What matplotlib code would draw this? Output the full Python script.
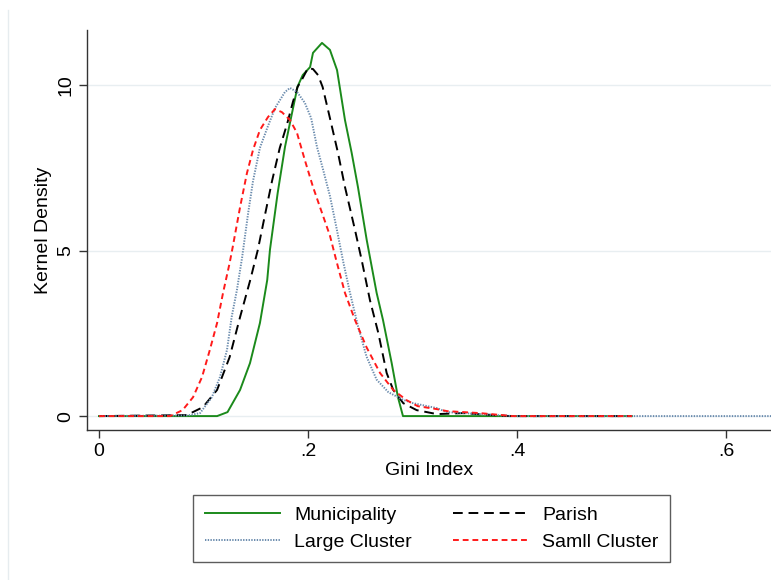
import matplotlib
matplotlib.use("Agg")
import matplotlib.pyplot as plt
from matplotlib.lines import Line2D

plt.rcParams['font.family'] = ['Liberation Sans', 'DejaVu Sans']

# Kernel density estimates of the Gini index by aggregation level
muni_x = [0.0, 0.113, 0.123, 0.135, 0.1445, 0.154, 0.161, 0.1636, 0.171, 0.178,
          0.1847, 0.190, 0.195, 0.202, 0.2048, 0.2134, 0.221, 0.2278, 0.2354,
          0.2418, 0.2478, 0.2562, 0.2657, 0.2718, 0.2801, 0.2861, 0.2909, 0.51]
muni_y = [0.0, 0.0, 0.12, 0.79, 1.60, 2.81, 4.11, 5.02, 6.74, 8.13,
          9.15, 9.95, 10.30, 10.54, 10.97, 11.27, 11.06, 10.45, 8.94,
          7.95, 6.92, 5.32, 3.72, 2.90, 1.60, 0.57, 0.0, 0.0]

parish_x = [0.0, 0.084, 0.0995, 0.113, 0.125, 0.135, 0.1445, 0.152, 0.159, 0.1656,
            0.173, 0.180, 0.1856, 0.190, 0.194, 0.200, 0.2048, 0.2096, 0.214,
            0.221, 0.2287, 0.2354, 0.245, 0.2514, 0.2593, 0.2673, 0.2753, 0.2816,
            0.2912, 0.304, 0.3234, 0.348, 0.393, 0.51]
parish_y = [0.0, 0.03, 0.27, 0.79, 1.78, 2.99, 4.08, 5.02, 6.10, 7.10,
            8.10, 8.82, 9.49, 9.94, 10.15, 10.51, 10.48, 10.30, 9.94,
            9.00, 7.95, 6.92, 5.62, 4.71, 3.50, 2.51, 1.30, 0.79,
            0.39, 0.18, 0.06, 0.09, 0.0, 0.0]

large_x = [0.0, 0.085, 0.0967, 0.108, 0.1158, 0.1225, 0.127, 0.132, 0.137, 0.1426,
           0.1474, 0.154, 0.161, 0.1684, 0.178, 0.1828, 0.1895, 0.197, 0.2030,
           0.2086, 0.2144, 0.2210, 0.2275, 0.2338, 0.240, 0.248, 0.256, 0.2657,
           0.277, 0.2905, 0.3005, 0.3234, 0.333, 0.3646, 0.396, 0.66]
large_y = [0.0, 0.02, 0.09, 0.57, 1.18, 2.00, 3.00, 3.81, 4.80, 6.10,
           7.10, 8.10, 8.70, 9.30, 9.79, 9.91, 9.79, 9.46, 9.00,
           8.13, 7.45, 6.65, 5.65, 4.65, 3.75, 2.70, 1.80, 1.10,
           0.72, 0.50, 0.39, 0.24, 0.12, 0.06, 0.0, 0.0]

small_x = [0.0, 0.068, 0.080, 0.090, 0.0986, 0.106, 0.113, 0.1187, 0.125, 0.128,
           0.135, 0.1416, 0.1474, 0.154, 0.1617, 0.1684, 0.175, 0.1828, 0.1895,
           0.197, 0.2048, 0.2115, 0.221, 0.2275, 0.2354, 0.245, 0.256, 0.269,
           0.2816, 0.2944, 0.305, 0.3234, 0.333, 0.3646, 0.396, 0.51]
small_y = [0.0, 0.0, 0.18, 0.57, 1.18, 1.99, 2.81, 3.72, 4.62, 5.11,
           6.31, 7.34, 8.04, 8.64, 9.03, 9.27, 9.18, 8.94, 8.55,
           7.73, 6.92, 6.31, 5.45, 4.65, 3.72, 2.90, 2.08, 1.30,
           0.79, 0.48, 0.30, 0.21, 0.15, 0.09, 0.0, 0.0]

labels = ["Municipality", "Parish", "Large Cluster", "Samll Cluster"]
x_ticks = [0, 0.2, 0.4, 0.6]
x_ticklabels = ["0", ".2", ".4", ".6"]
y_ticks = [0, 5, 10]

fig = plt.figure(figsize=(7.71, 5.80), dpi=100)
ax = fig.add_axes([87/771, 150/580, 684/771, 400/580])

fs = 14
lw = 1.4
l_muni, = ax.plot(muni_x, muni_y, color='#1b8a1b', lw=lw, solid_joinstyle='round')
l_par, = ax.plot(parish_x, parish_y, color='black', lw=lw, dashes=(5, 3))
l_large, = ax.plot(large_x, large_y, color='#6a8bad', lw=lw, dashes=(0.7, 0.7))
l_small, = ax.plot(small_x, small_y, color='#ff1a1a', lw=lw, dashes=(3, 2))

ax.set_xlim(-0.01148, 0.6431)
ax.set_ylim(-0.42, 11.66)

ax.set_xticks(x_ticks)
ax.set_xticklabels(x_ticklabels, fontsize=fs)
ax.set_yticks(y_ticks)
ax.set_yticklabels([str(v) for v in y_ticks], fontsize=fs, rotation=90, va='center')
ax.tick_params(axis='both', direction='out', length=6, width=1, color='#333333', pad=3)

ax.yaxis.grid(True, color='#e8eef1', lw=1)
ax.set_axisbelow(True)

for side in ['top', 'right']:
    ax.spines[side].set_visible(False)
for side in ['left', 'bottom']:
    ax.spines[side].set_color('#333333')
    ax.spines[side].set_linewidth(1)

ax.set_xlabel("Gini Index", fontsize=fs, labelpad=2)
ax.set_ylabel("Kernel Density", fontsize=fs, labelpad=4)

# handles ordered so the two-column legend reads row by row
leg = fig.legend([l_muni, l_large, l_par, l_small],
                 [labels[0], labels[2], labels[1], labels[3]],
                 loc='upper center', bbox_to_anchor=(431.5/771, 1 - 495/580),
                 ncol=2, fontsize=fs, frameon=True, fancybox=False,
                 handlelength=3.9, handletextpad=0.7, columnspacing=2.1,
                 labelspacing=0.45, borderpad=0.6, borderaxespad=0)
leg.get_frame().set_edgecolor('#333333')
leg.get_frame().set_linewidth(1)

# faint outer frame edge on the left
fig.add_artist(Line2D([8/771, 8/771], [0, 1 - 10/580], transform=fig.transFigure,
                      color='#e6ecef', lw=1))

fig.savefig("out.png", dpi=100)
